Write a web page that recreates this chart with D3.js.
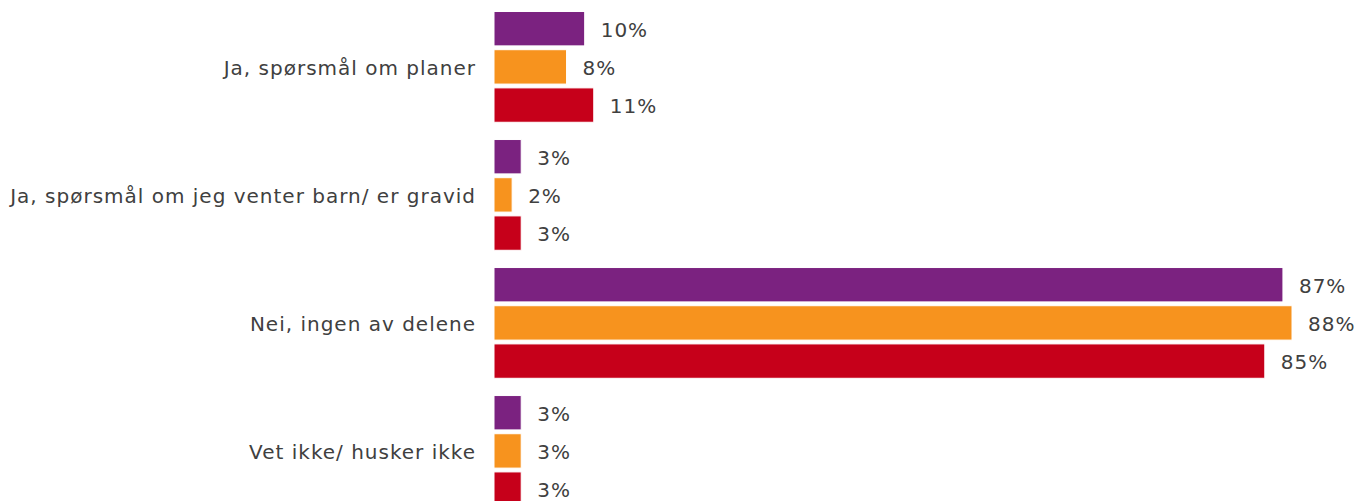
<!DOCTYPE html>
<html>
<head>
<meta charset="utf-8">
<script src="https://cdn.jsdelivr.net/npm/d3@7"></script>
<style>
  html, body { margin: 0; padding: 0; background: #ffffff; }
  svg { display: block; }
  text { font-family: "DejaVu Sans", Verdana, sans-serif; fill: #404040; letter-spacing: 1px; }
</style>
</head>
<body>
<svg id="chart" width="1360" height="501"></svg>
<script>
// Answer categories (top to bottom)
const categories = [
  "Ja, spørsmål om planer",
  "Ja, spørsmål om jeg venter barn/ er gravid",
  "Nei, ingen av delene",
  "Vet ikke/ husker ikke"
];
// Three respondent groups, one bar each per category
const seriesNames = ["Serie 1", "Serie 2", "Serie 3"];
const series1 = [10, 3, 87, 3];
const series2 = [8, 2, 88, 3];
const series3 = [11, 3, 85, 3];
const colors = ["#7b2280", "#f7931e", "#c6001a"];

const seriesValues = [series1, series2, series3];

const svg = d3.select("#chart");
const fontSize = 20;

const x = d3.scaleLinear()
  .domain([0, 88])
  .range([494, 1292]);

const yGroup = d3.scaleBand()
  .domain(categories)
  .range([3.2, 514.6])
  .paddingInner(0.105)
  .paddingOuter(0.05);

const ySeries = d3.scaleBand()
  .domain(seriesNames)
  .range([0, yGroup.bandwidth()])
  .paddingInner(0.1)
  .paddingOuter(0.05);

const groups = svg.selectAll("g.group")
  .data(categories)
  .join("g")
  .attr("class", "group")
  .attr("transform", d => `translate(0,${yGroup(d)})`);

// Category labels on the left, right-aligned against the bars
groups.append("text")
  .attr("x", 476)
  .attr("y", yGroup.bandwidth() / 2 + 1)
  .attr("text-anchor", "end")
  .attr("dominant-baseline", "central")
  .style("font-size", fontSize + "px")
  .text(d => d);

groups.each(function(cat, ci) {
  const g = d3.select(this);
  const rows = seriesNames.map((s, si) => ({ s, si, v: seriesValues[si][ci] }));

  g.selectAll("rect")
    .data(rows)
    .join("rect")
    .attr("x", x(0))
    .attr("y", d => ySeries(d.s))
    .attr("width", d => x(d.v) - x(0))
    .attr("height", ySeries.bandwidth())
    .attr("fill", d => colors[d.si])
    .attr("stroke", "#ffffff")
    .attr("stroke-width", 1);

  g.selectAll("text.value")
    .data(rows)
    .join("text")
    .attr("class", "value")
    .attr("x", d => x(d.v) + 16)
    .attr("y", d => ySeries(d.s) + ySeries.bandwidth() / 2 + 1)
    .attr("dominant-baseline", "central")
    .style("font-size", fontSize + "px")
    .text(d => d.v + "%");
});
</script>
</body>
</html>
